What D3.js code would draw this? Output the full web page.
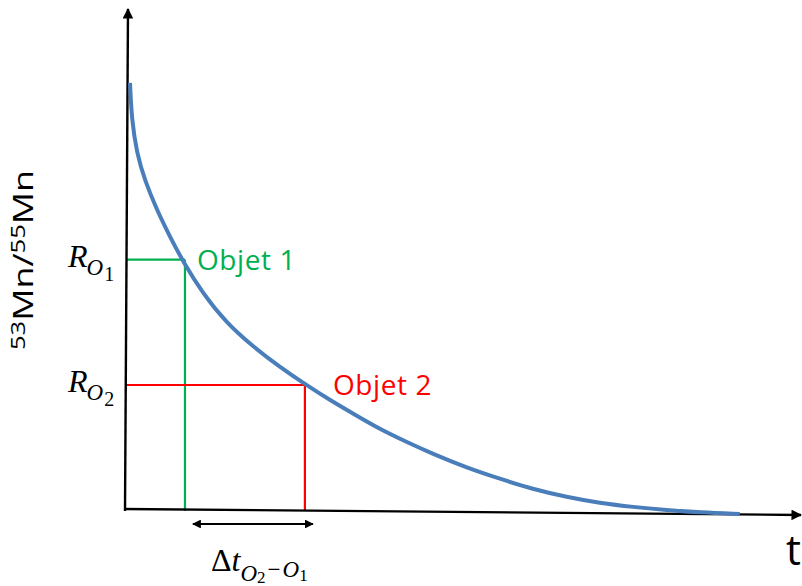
<!DOCTYPE html>
<html>
<head>
<meta charset="utf-8">
<script src="https://cdn.jsdelivr.net/npm/d3@7"></script>
<style>
  body { margin: 0; background: #fff; }
  text { font-family: "Open Sans", "Liberation Sans", sans-serif; }
  .math { font-family: "Liberation Serif", "DejaVu Serif", serif; font-style: italic; }
  .up { font-style: normal; }
</style>
</head>
<body>
<script>
// chart size
var w = 802, h = 586;

// decay curve (t, ratio)
var times  = [0.6, 0.85, 1.6, 2.8, 4.6, 6.6, 8.55, 11.5, 15.0, 19.0, 23.0, 26.7, 30.4, 34.2, 37.9, 41.6, 45.8, 50.9, 55.8, 60.7, 65.8, 70.7, 75.7, 80.7, 85.7, 91.6];
var ratios = [86.3, 79.0, 72.2, 66.7, 60.7, 55.2, 50.2, 43.8, 37.9, 33.1, 29.0, 25.6, 22.4, 19.4, 16.5, 14.1, 11.5, 8.7, 6.5, 4.4, 2.8, 1.6, 0.8, 0.2, -0.3, -0.6];

// the two objects
var objNames  = ["Objet 1", "Objet 2"];
var objTimes  = [8.8, 26.7];
var objRatios = [50.7, 25.4];
var objColors = ["#00b050", "#ff0000"];
var objSubs   = ["1", "2"];

var x = d3.scaleLinear().domain([0, 100]).range([126, 796]);
var y = d3.scaleLinear().domain([0, 100]).range([511, 15]);

var svg = d3.select("body").append("svg")
    .attr("width", w)
    .attr("height", h);

// arrow heads
svg.append("defs").append("marker")
    .attr("id", "arr")
    .attr("viewBox", "0 0 10 10")
    .attr("refX", 9).attr("refY", 5)
    .attr("markerWidth", 4.6).attr("markerHeight", 4.4)
    .attr("markerUnits", "strokeWidth")
    .attr("orient", "auto-start-reverse")
    .append("path").attr("d", "M0,0L10,5L0,10Z").attr("fill", "#000");

// guide lines for each object
var objs = d3.range(objNames.length);
objs.forEach(function(i){
    var g = svg.append("g").attr("stroke", objColors[i]).attr("stroke-width", 2.2).attr("fill", "none");
    g.append("line")
        .attr("x1", x(0)).attr("x2", x(objTimes[i]))
        .attr("y1", y(objRatios[i])).attr("y2", y(objRatios[i]));
    g.append("line")
        .attr("x1", x(objTimes[i])).attr("x2", x(objTimes[i]))
        .attr("y1", y(objRatios[i])).attr("y2", y(0));
});

// axes with arrows
svg.append("line")
    .attr("x1", x(0) - 1).attr("y1", y(0))
    .attr("x2", x(0) + 2).attr("y2", 9)
    .attr("stroke", "#000").attr("stroke-width", 2.4)
    .attr("marker-end", "url(#arr)");
svg.append("line")
    .attr("x1", x(0) - 2).attr("y1", y(0) - 2)
    .attr("x2", 801).attr("y2", y(0) + 4)
    .attr("stroke", "#000").attr("stroke-width", 2.4)
    .attr("marker-end", "url(#arr)");

// the curve
var pts = times.map(function(t, i){ return [t, ratios[i]]; });
var line = d3.line()
    .x(function(d){ return x(d[0]); })
    .y(function(d){ return y(d[1]); })
    .curve(d3.curveBasis);
svg.append("path")
    .datum(pts)
    .attr("d", line)
    .attr("fill", "none")
    .attr("stroke", "#4a7ebb")
    .attr("stroke-width", 4);

// object labels
objs.forEach(function(i){
    svg.append("text")
        .attr("x", x(objTimes[i]) + (i === 0 ? 12 : 28))
        .attr("y", y(objRatios[i]) + 10)
        .attr("fill", objColors[i])
        .style("font-size", "28px")
        .style("letter-spacing", "0.6px")
        .text(objNames[i]);

    var r = svg.append("text")
        .attr("class", "math")
        .attr("x", 68)
        .attr("y", y(objRatios[i]) + 7)
        .style("font-size", "32px");
    r.append("tspan").text("R");
    r.append("tspan").attr("dx", -1).attr("dy", 8).style("font-size", "23px").text("O");
    r.append("tspan").attr("class", "up").attr("dx", 1).attr("dy", 6).style("font-size", "20px").text(objSubs[i]);
});

// delta t arrow
svg.append("line")
    .attr("x1", x(objTimes[0]) + 8).attr("y1", 524)
    .attr("x2", x(objTimes[1]) + 8).attr("y2", 524)
    .attr("stroke", "#000").attr("stroke-width", 2)
    .attr("marker-start", "url(#arr)")
    .attr("marker-end", "url(#arr)");

var dt = svg.append("text")
    .attr("class", "math")
    .attr("x", 211).attr("y", 571)
    .style("font-size", "32px");
dt.append("tspan").attr("class", "up").text("Δ");
dt.append("tspan").text("t");
dt.append("tspan").attr("dy", 10).style("font-size", "23px").text("O");
dt.append("tspan").attr("class", "up").attr("dy", 2).style("font-size", "17px").text("2");
dt.append("tspan").attr("class", "up").attr("dy", -6).attr("dx", 2).style("font-size", "23px").text("−");
dt.append("tspan").attr("dx", 2).style("font-size", "23px").text("O");
dt.append("tspan").attr("class", "up").attr("dy", 4).style("font-size", "17px").text("1");

// axis titles
svg.append("text")
    .attr("x", 786).attr("y", 565)
    .style("font-size", "42px")
    .text("t");

var yt = svg.append("text")
    .attr("transform", "translate(33,260) rotate(-90) scale(1.28,1)")
    .attr("text-anchor", "middle")
    .style("font-size", "28px");
yt.append("tspan").attr("dy", -8).style("font-size", "20px").text("53");
yt.append("tspan").attr("dy", 8).text("Mn/");
yt.append("tspan").attr("dy", -8).style("font-size", "20px").text("55");
yt.append("tspan").attr("dy", 8).text("Mn");
</script>
</body>
</html>
